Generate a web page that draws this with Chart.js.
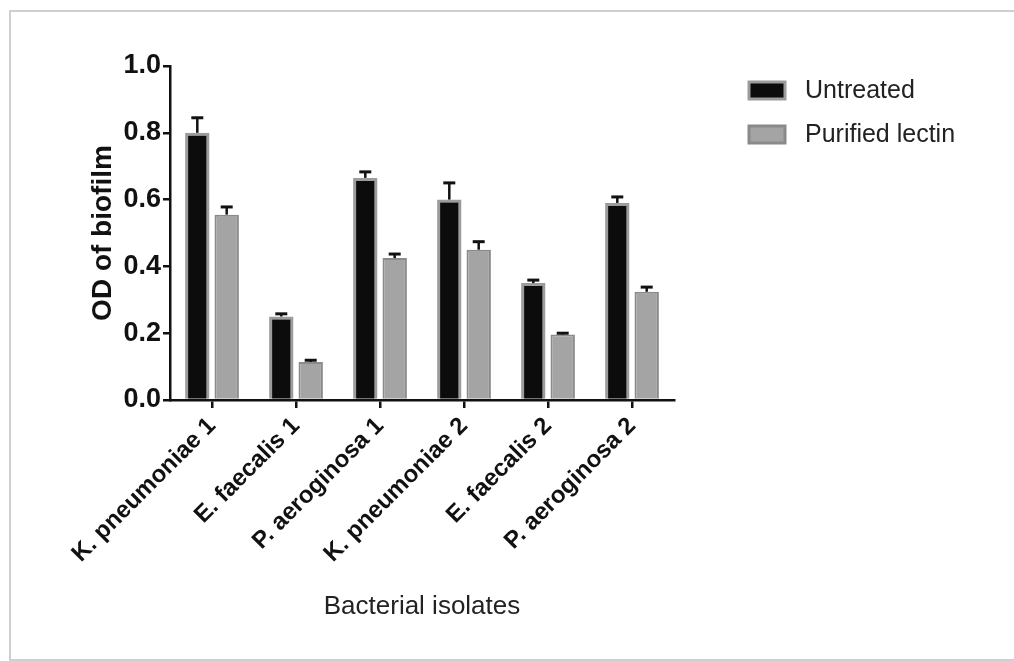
<!DOCTYPE html>
<html>
<head>
<meta charset="utf-8">
<script src="https://cdn.jsdelivr.net/npm/chart.js@4.4.1/dist/chart.umd.min.js"></script>
<style>
  html, body { margin: 0; padding: 0; background: #fff; overflow: hidden; }
  #frame { position: absolute; left: 9px; top: 10px; width: 1100px; height: 647px; border: 2px solid #cfcfcf; }
  #wrap { position: absolute; left: 0; top: 0; width: 1014px; height: 661px; }
</style>
</head>
<body>
<div id="frame"></div>
<div id="wrap"><canvas id="od-chart" width="1014" height="661"></canvas></div>
<script>
// Biofilm OD per isolate
var isolates = ['K. pneumoniae 1', 'E. faecalis 1', 'P. aeroginosa 1', 'K. pneumoniae 2', 'E. faecalis 2', 'P. aeroginosa 2'];
var untreated = [0.80, 0.25, 0.665, 0.60, 0.35, 0.59];
var untreatedErr = [0.045, 0.008, 0.018, 0.05, 0.009, 0.018];
var lectin = [0.555, 0.114, 0.425, 0.45, 0.196, 0.324];
var lectinErr = [0.023, 0.005, 0.012, 0.024, 0.004, 0.014];
var yTicks = [0, 0.2, 0.4, 0.6, 0.8, 1.0];

Chart.defaults.font.family = 'Arial, "Liberation Sans", sans-serif';
Chart.defaults.color = '#111';

// upward error bars
var errorBars = {
    id: 'errorBars',
    afterDatasetsDraw: function (chart) {
        var ctx = chart.ctx;
        var y = chart.scales.y;
        chart.data.datasets.forEach(function (ds, i) {
            var meta = chart.getDatasetMeta(i);
            meta.data.forEach(function (bar, j) {
                var top = y.getPixelForValue(ds.data[j] + ds.errors[j]);
                ctx.save();
                ctx.strokeStyle = '#111';
                ctx.lineWidth = 2.5;
                ctx.beginPath();
                ctx.moveTo(bar.x, bar.y);
                ctx.lineTo(bar.x, top);
                ctx.stroke();
                ctx.lineWidth = 3;
                ctx.beginPath();
                ctx.moveTo(bar.x - 6, top);
                ctx.lineTo(bar.x + 6, top);
                ctx.stroke();
                ctx.restore();
            });
        });
    }
};

// legend drawn to the right of the plot
var sideLegend = {
    id: 'sideLegend',
    afterDraw: function (chart) {
        var ctx = chart.ctx;
        chart.data.datasets.forEach(function (ds, i) {
            var top = 82 + i * 44;
            ctx.save();
            ctx.fillStyle = ds.backgroundColor;
            ctx.strokeStyle = ds.borderColor;
            ctx.lineWidth = 3;
            ctx.fillRect(749, top, 36, 17);
            ctx.strokeRect(749, top, 36, 17);
            ctx.fillStyle = '#222';
            ctx.font = '25px Arial, "Liberation Sans", sans-serif';
            ctx.textBaseline = 'middle';
            ctx.fillText(ds.label, 805, top + 9);
            ctx.restore();
        });
    }
};

new Chart(document.getElementById('od-chart'), {
    type: 'bar',
    data: {
        labels: isolates,
        datasets: [{
            label: 'Untreated',
            data: untreated,
            errors: untreatedErr,
            backgroundColor: '#0c0c0c',
            borderColor: '#9c9c9c',
            borderWidth: 3,
            categoryPercentage: 0.7,
            barPercentage: 0.83
        }, {
            label: 'Purified lectin',
            data: lectin,
            errors: lectinErr,
            backgroundColor: '#a4a4a4',
            borderColor: '#8a8a8a',
            borderWidth: 2,
            categoryPercentage: 0.7,
            barPercentage: 0.83
        }]
    },
    options: {
        responsive: false,
        animation: false,
        layout: { padding: { left: 86, top: 66, right: 340, bottom: 39 } },
        plugins: {
            legend: { display: false },
            tooltip: { enabled: false }
        },
        scales: {
            x: {
                offset: true,
                grid: { display: true, offset: false, drawOnChartArea: false, tickLength: 8, color: '#111', lineWidth: 2.5 },
                border: { display: true, color: '#111', width: 2.5 },
                ticks: {
                    minRotation: 45, maxRotation: 45, padding: 4,
                    font: { size: 24, weight: 'bold' }, color: '#111'
                },
                title: {
                    display: true, text: 'Bacterial isolates',
                    font: { size: 26 }, color: '#222', padding: 0
                },
                afterFit: function (scale) {
                    scale.height = 222;
                    scale.paddingLeft = 0;
                    scale.paddingRight = 0;
                }
            },
            y: {
                min: 0,
                max: 1,
                afterBuildTicks: function (scale) {
                    scale.ticks = yTicks.map(function (v) { return { value: v }; });
                },
                grid: { display: true, drawOnChartArea: false, tickLength: 7, color: '#111', lineWidth: 2.5 },
                border: { display: true, color: '#111', width: 2.5 },
                ticks: {
                    padding: 2,
                    font: { size: 27, weight: 'bold' }, color: '#111',
                    callback: function (v) { return Number(v).toFixed(1); }
                },
                title: {
                    display: true, text: 'OD of biofilm',
                    font: { size: 28, weight: 'bold' }, color: '#111', padding: 0
                },
                afterFit: function (scale) {
                    scale.width = 84;
                }
            }
        }
    },
    plugins: [errorBars, sideLegend]
});
</script>
</body>
</html>
